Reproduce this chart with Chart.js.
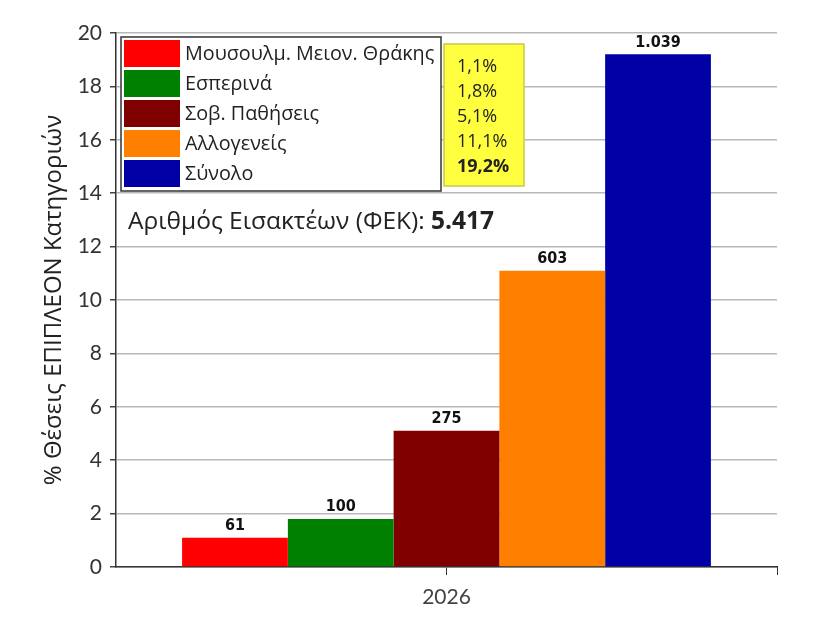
<!DOCTYPE html>
<html>
<head>
<meta charset="utf-8">
<script src="https://cdn.jsdelivr.net/npm/chart.js@4.4.1/dist/chart.umd.min.js"></script>
<style>
  html, body { margin: 0; padding: 0; background: #fff; }
  #wrap { width: 830px; height: 618px; }
</style>
</head>
<body>
<div id="wrap"><canvas id="myChart" width="830" height="618"></canvas></div>
<script>
  // data
  const years = ['2026'];
  const seriesNames = ['Μουσουλμ. Μειον. Θράκης', 'Εσπερινά', 'Σοβ. Παθήσεις', 'Αλλογενείς', 'Σύνολο'];
  const seriesColors = ['#ff0000', '#008000', '#800000', '#ff8000', '#0000a4'];
  const percentValues = [1.1, 1.8, 5.1, 11.1, 19.2];
  const seatCounts = ['61', '100', '275', '603', '1.039'];
  const percentLabels = ['1,1%', '1,8%', '5,1%', '11,1%', '19,2%'];
  const yTicks = [0, 2, 4, 6, 8, 10, 12, 14, 16, 18, 20];
  const totalLabel = 'Αριθμός Εισακτέων (ΦΕΚ): ';
  const totalValue = '5.417';

  const datasets = seriesNames.map(function(name, i) {
    return {
      label: name,
      data: [percentValues[i]],
      backgroundColor: seriesColors[i],
      borderWidth: 0,
      categoryPercentage: 0.8,
      barPercentage: 1.0
    };
  });

  // labels on top of the bars, legend box, yellow box and total text
  const extras = {
    id: 'extras',
    afterDatasetsDraw(chart) {
      const ctx = chart.ctx;
      ctx.save();
      ctx.fillStyle = '#111';
      ctx.font = 'bold 16px "DejaVu Sans Condensed", "DejaVu Sans"';
      ctx.textAlign = 'center';
      ctx.textBaseline = 'bottom';
      chart.data.datasets.forEach(function(ds, i) {
        const bar = chart.getDatasetMeta(i).data[0];
        ctx.fillText(seatCounts[i], bar.x, bar.y - 4);
      });
      ctx.restore();
    },
    afterDraw(chart) {
      const ctx = chart.ctx;
      const area = chart.chartArea;
      ctx.save();

      // right end tick on x axis
      ctx.strokeStyle = '#333';
      ctx.lineWidth = 1;
      ctx.beginPath();
      ctx.moveTo(area.right + 0.5, area.bottom);
      ctx.lineTo(area.right + 0.5, area.bottom + 8);
      ctx.stroke();

      // legend box
      ctx.fillStyle = '#fff';
      ctx.fillRect(121, 37, 320, 154);
      ctx.strokeStyle = '#333';
      ctx.lineWidth = 1.5;
      ctx.strokeRect(121, 37, 320, 154);
      ctx.font = '19.8px "Open Sans", "Noto Sans"';
      ctx.textBaseline = 'middle';
      ctx.textAlign = 'left';
      seriesNames.forEach(function(name, i) {
        const y = 40 + i * 30;
        ctx.fillStyle = seriesColors[i];
        ctx.fillRect(124, y, 56, 27);
        ctx.fillStyle = '#222';
        ctx.fillText(name, 185, y + 14);
      });

      // yellow box
      ctx.fillStyle = '#ffff40';
      ctx.fillRect(444, 44, 80, 142);
      ctx.strokeStyle = '#c9c94a';
      ctx.lineWidth = 1.5;
      ctx.strokeRect(444, 44, 80, 142);
      ctx.fillStyle = '#222';
      percentLabels.forEach(function(t, i) {
        ctx.font = (i === percentLabels.length - 1 ? 'bold ' : '') + '18px "Open Sans", "Noto Sans"';
        ctx.fillText(t, 457, 67 + i * 25);
      });

      // total text
      ctx.font = '24.5px "Open Sans", "Noto Sans"';
      ctx.fillStyle = '#222';
      ctx.fillText(totalLabel, 128, 222);
      const w = ctx.measureText(totalLabel).width;
      ctx.font = 'bold 24.5px "Open Sans", "Noto Sans"';
      ctx.fillText(totalValue, 128 + w, 222);
      ctx.restore();
    }
  };

  const chart = new Chart(document.getElementById('myChart').getContext('2d'), {
    type: 'bar',
    data: { labels: years, datasets: datasets },
    options: {
      responsive: false,
      animation: false,
      layout: { padding: { left: 40, top: 33, right: 53, bottom: 0 } },
      plugins: {
        legend: { display: false },
        tooltip: { enabled: false }
      },
      scales: {
        x: {
          grid: { offset: false, drawOnChartArea: false, tickLength: 8, tickColor: '#333' },
          border: { color: '#333', width: 1.5 },
          ticks: { color: '#444', font: { family: 'Lato', size: 21 }, padding: 10 },
          afterFit: function(s) { s.height = 51; }
        },
        y: {
          min: 0,
          max: 20,
          ticks: {
            stepSize: 1,
            color: '#333',
            font: { family: 'Lato', size: 21 },
            padding: 8,
            callback: function(v) { return yTicks.includes(v) ? String(v) : ''; }
          },
          grid: {
            color: function(c) { return c.tick && c.tick.value % 2 === 0 ? '#b8b8b8' : 'rgba(0,0,0,0)'; },
            tickColor: '#444',
            tickLength: 6,
            lineWidth: 1.5
          },
          border: { color: '#333', width: 1.5 },
          title: {
            display: true,
            text: '% Θέσεις ΕΠΙΠΛΕΟΝ Κατηγοριών',
            color: '#222',
            font: { family: '"Open Sans", "Noto Sans"', size: 24 },
            padding: { top: 0, bottom: 4 }
          },
          afterFit: function(s) { s.width = 76; }
        }
      }
    },
    plugins: [extras]
  });
</script>
</body>
</html>
